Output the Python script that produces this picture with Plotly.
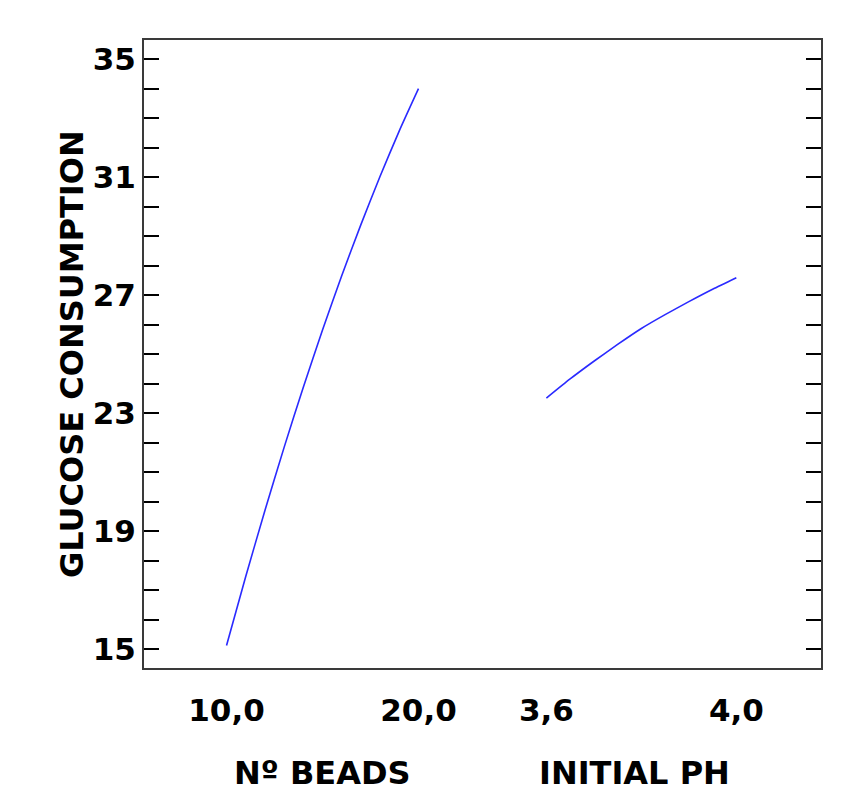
import plotly.graph_objects as go

# Main effects data
beads_levels = [10, 11, 12, 13, 14, 15, 16, 17, 18, 19, 20]
glucose_vs_beads = [15.12, 17.46, 19.70, 21.84, 23.88, 25.82, 27.66, 29.39, 31.03, 32.57, 34.0]

ph_levels = [3.60, 3.65, 3.70, 3.75, 3.80, 3.85, 3.90, 3.95, 4.00]
glucose_vs_ph = [23.51, 24.16, 24.76, 25.33, 25.87, 26.34, 26.78, 27.20, 27.59]

beads_ticks = [10, 20]
beads_ticktext = ["10,0", "20,0"]
ph_ticks = [3.6, 4.0]
ph_ticktext = ["3,6", "4,0"]
y_ticks = [15, 19, 23, 27, 31, 35]

FONT = "DejaVu Sans"
LINE_COLOR = "#2a2aff"

fig = go.Figure()
fig.add_trace(go.Scatter(x=beads_levels, y=glucose_vs_beads, mode="lines",
                         line=dict(color=LINE_COLOR, width=1.6, shape="spline", smoothing=0.6),
                         xaxis="x", yaxis="y", showlegend=False))
fig.add_trace(go.Scatter(x=ph_levels, y=glucose_vs_ph, mode="lines",
                         line=dict(color=LINE_COLOR, width=1.6, shape="spline", smoothing=0.6),
                         xaxis="x2", yaxis="y", showlegend=False))

tickfont = dict(family=FONT, size=31, color="black", weight="bold")
titlefont = dict(family=FONT, size=32, color="black", weight="bold")

fig.update_layout(
    width=841, height=784,
    margin=dict(l=136, r=28, t=32, b=124),
    paper_bgcolor="white", plot_bgcolor="white",
    xaxis=dict(range=[5.70, 40.97], tickvals=beads_ticks, ticktext=beads_ticktext,
               showgrid=False, zeroline=False, showline=True, linecolor="#3a3a3a",
               linewidth=2, mirror=True, ticks="", tickfont=tickfont,
               ticklabelstandoff=14),
    xaxis2=dict(range=[2.7526, 4.1783], tickvals=ph_ticks, ticktext=ph_ticktext,
                overlaying="x", anchor="y", side="bottom",
                showgrid=False, zeroline=False, showline=False, ticks="",
                tickfont=tickfont, ticklabelstandoff=21),
    yaxis=dict(range=[14.36, 35.65], tickvals=y_ticks,
               showgrid=False, zeroline=False, showline=True, linecolor="#3a3a3a",
               linewidth=2, mirror="allticks", ticks="inside", ticklen=15,
               tickwidth=2, tickcolor="black", tickfont=tickfont,
               ticklabelstandoff=0,
               minor=dict(dtick=1, ticks="inside", ticklen=8, tickwidth=2,
                          tickcolor="black", showgrid=False)),
    annotations=[
        dict(text="GLUCOSE CONSUMPTION", xref="paper", yref="paper", x=0, y=0.5,
             xshift=-72, xanchor="center", yanchor="middle", textangle=-90,
             showarrow=False, font=titlefont),
        dict(text="Nº BEADS", xref="x", yref="paper", x=15, y=0, yshift=-105,
             xanchor="center", yanchor="middle", showarrow=False, font=titlefont,
             borderpad=0),
        dict(text="INITIAL PH", xref="x2", yref="paper", x=3.785, y=0, yshift=-105,
             xanchor="center", yanchor="middle", showarrow=False, font=titlefont,
             borderpad=0),
    ],
)

fig.write_html("out.html")
